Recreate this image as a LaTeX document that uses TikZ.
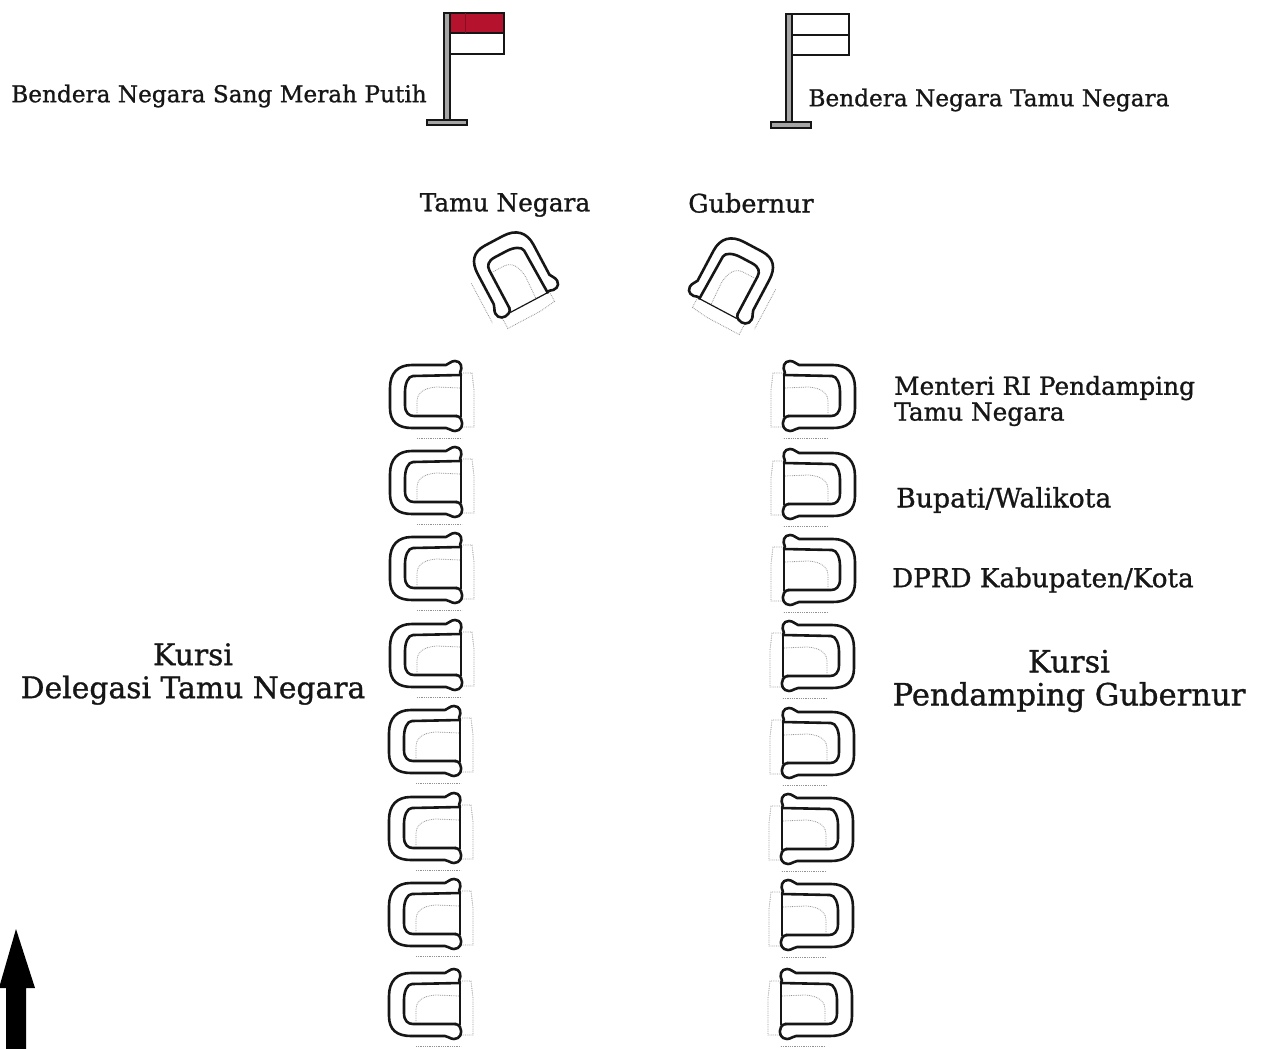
\documentclass[tikz,border=0pt]{standalone}
\usepackage{fontspec}
\setmainfont[FakeBold=1]{DejaVu Serif}
\definecolor{flagred}{HTML}{B5122E}
\definecolor{inkk}{HTML}{161616}
\tikzset{
  x=1pt,y=-1pt,
  chairline/.style={draw=inkk,line width=2.6pt,line join=round,line cap=round},
  chairfaint/.style={draw=gray!85,line width=0.8pt,densely dotted},
  labeltext/.style={font=\fontsize{#1}{#1}\selectfont,inner sep=0pt,text=inkk},
  stackedtext/.style={font=\fontsize{#1}{33}\selectfont,inner sep=0pt,text=inkk,align=center},
  poleshape/.style={draw=inkk,fill=gray!70,line width=1.4pt},
  flagbox/.style={draw=inkk,line width=1.2pt,fill=white},
  chair/.pic={
    \draw[chairfaint] (30,-12) -- (7,-13) .. controls (-8,-12) and (-13,-6) .. (-13,2) -- (-13,14);
    \draw[chairfaint] (33,-27) -- (42,-27) -- (44,-10) -- (44,27) -- (32,27);
    \draw[chairfaint] (-13,38) -- (32,38);
    \draw[chairline] (30,-27) .. controls (33,-33) and (31,-39) .. (25,-39)
      .. controls (21,-39) and (19,-36) .. (16,-35) -- (-18,-35)
      .. controls (-32,-35) and (-40,-27) .. (-40,-12) -- (-40,8)
      .. controls (-40,22) and (-32,28) .. (-18,28) -- (16,28)
      .. controls (19,28) and (21,31) .. (25,31)
      .. controls (31,31) and (34,25) .. (31,19) .. controls (30,17) and (28,16) .. (26,16);
    \draw[chairline] (31,-25) -- (-17,-24)
      .. controls (-22,-24) and (-25,-16) .. (-25,-8) -- (-25,5)
      .. controls (-25,13) and (-21,16) .. (-16,16) -- (27,16);
    \draw[chairline,line width=1.2pt] (31,-27) -- (31,17);
  }
}
\begin{document}
\begin{tikzpicture}
\useasboundingbox (0,0) rectangle (1262,1049);
% flags
\draw[flagbox] (449,33) rectangle (504,54);
\fill[flagred,draw=inkk,line width=1.2pt] (449,13) rectangle (504,33);
\draw[flagred!75!black,line width=0.5pt] (465,13) -- (465,33);
\fill[poleshape] (444,13) rectangle (450,120);
\fill[poleshape] (427,120) rectangle (467,125);
\draw[flagbox] (791,14) rectangle (849,35);
\draw[flagbox] (791,35) rectangle (849,55);
\fill[poleshape] (786,14) rectangle (792,122);
\fill[poleshape] (771,122) rectangle (811,128);
% arrow
\fill[black] (16,929) -- (35,988) -- (26,988) -- (26,1049) -- (6,1049) -- (6,988) -- (-1,988) -- cycle;
% top chairs
\pic at (511,277) [rotate=-62] {chair};
\pic at (736,283) [rotate=62,xscale=-1] {chair};
% left column
\foreach \yy/\xx in {400/430,486/430,572/430,659/430,745/429,832/429,918/429,1008/429}
  \pic at (\xx,\yy) {chair};
% right column
\foreach \yy/\xx in {400/815,488/815,574/815,660/814,747/814,833/813,919/813,1008/812}
  \pic at (\xx,\yy) [xscale=-1] {chair};
% labels
\node[labeltext=23.2] (flagA) at (219,96) {Bendera Negara Sang Merah Putih};
\node[labeltext=23.2] (flagB) at (989,100) {Bendera Negara Tamu Negara};
\node[labeltext=24.8] (tamu) at (505,205) {Tamu Negara};
\node[labeltext=25.5] (gub) at (751,203) {Gubernur};
\node[labeltext=24.8,anchor=west,align=left] (menteri) at (894,401) {Menteri RI Pendamping\\[1pt]Tamu Negara};
\node[labeltext=26.7,anchor=west] (bupati) at (896,500) {Bupati/Walikota};
\node[labeltext=26.2,anchor=west] (dprd) at (892,580) {DPRD Kabupaten/Kota};
\node[stackedtext=29.8] (delegasi) at (193,674) {Kursi\\Delegasi Tamu Negara};
\node[stackedtext=30.6] (pendamping) at (1069,681) {Kursi\\Pendamping Gubernur};
\end{tikzpicture}
\end{document}
